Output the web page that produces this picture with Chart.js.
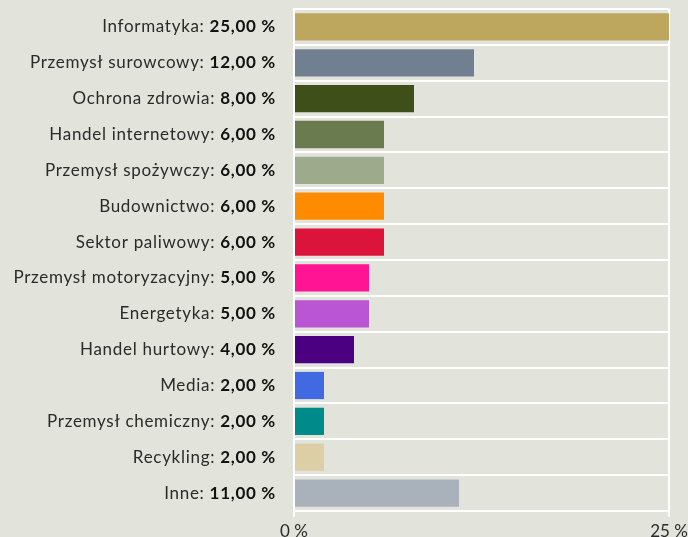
<!DOCTYPE html>
<html>
<head>
<meta charset="utf-8">
<script src="https://cdn.jsdelivr.net/npm/chart.js@4/dist/chart.umd.min.js"></script>
<style>
html,body{margin:0;padding:0;background:#e2e4dc;}
#wrap{width:688px;height:537px;}
</style>
</head>
<body>
<div id="wrap"><canvas id="c" width="688" height="537"></canvas></div>
<script>
const categories = ["Informatyka","Przemysł surowcowy","Ochrona zdrowia","Handel internetowy","Przemysł spożywczy","Budownictwo","Sektor paliwowy","Przemysł motoryzacyjny","Energetyka","Handel hurtowy","Media","Przemysł chemiczny","Recykling","Inne"];
const values = [25,12,8,6,6,6,6,5,5,4,2,2,2,11];
const colors = ["#bda65e","#708090","#3f4f1a","#6b7b50","#9eaa8c","#ff8c00","#dc143c","#ff1493","#ba55d3","#4b0082","#4169e1","#008b8b","#dccfa5","#a9b2ba"];
const xTicks = [0,25];

const FONT = "Lato, sans-serif";
const labelPlugin = {
  id: 'labels',
  afterDraw(chart){
    const ctx = chart.ctx, ys = chart.scales.y;
    ctx.save();
    ctx.textBaseline = 'middle';
    ctx.textAlign = 'right';
    ctx.letterSpacing = '0.7px';
    const xr = 276;
    categories.forEach((name,i)=>{
      const y = ys.getPixelForValue(i);
      const val = values[i].toFixed(2).replace('.',',') + ' %';
      ctx.font = "bold 17px " + FONT;
      ctx.fillStyle = '#111';
      ctx.fillText(val, xr, y);
      const w = ctx.measureText(val).width;
      ctx.font = "17px " + FONT;
      ctx.fillStyle = '#2a2a2a';
      ctx.fillText(name + ': ', xr - w, y);
    });
    ctx.restore();
  }
};

new Chart(document.getElementById('c'), {
  type: 'bar',
  data: {
    labels: categories,
    datasets: [{ data: values, backgroundColor: colors, borderWidth: 0, barPercentage: 0.76, categoryPercentage: 1 }]
  },
  options: {
    indexAxis: 'y',
    responsive: false,
    animation: false,
    layout: { padding: { left: 0, right: 19, top: 9, bottom: 0 } },
    plugins: { legend: { display: false }, tooltip: { enabled: false } },
    scales: {
      y: {
        ticks: { display: false },
        grid: { color: '#ffffff', lineWidth: 2, offset: true, drawTicks: false },
        border: { color: '#ffffff', width: 2 },
        afterFit(s){ s.width = 294; }
      },
      x: {
        min: 0, max: 25,
        afterBuildTicks(s){ s.ticks = xTicks.map(v=>({value:v})); },
        ticks: { color: '#2a2a2a', font: { family: FONT, size: 17 }, padding: 4, callback: v => v + ' %', maxRotation: 0 },
        grid: { color: '#ffffff', lineWidth: 2, tickLength: 6 },
        border: { color: '#ffffff', width: 2 },
        afterFit(s){ s.height = 26; s.paddingRight = 0; s.paddingLeft = 0; }
      }
    }
  },
  plugins: [labelPlugin]
});
</script>
</body>
</html>
